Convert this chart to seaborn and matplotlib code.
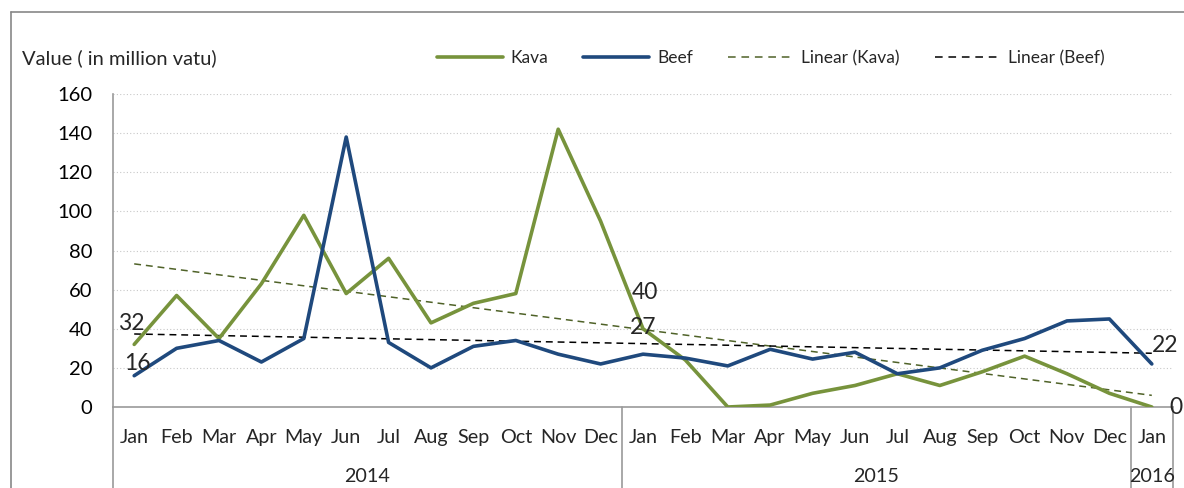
import numpy as np
import pandas as pd
import matplotlib
matplotlib.use("Agg")
import matplotlib.pyplot as plt
from matplotlib.lines import Line2D
import seaborn as sns

months = ["Jan", "Feb", "Mar", "Apr", "May", "Jun", "Jul", "Aug", "Sep", "Oct", "Nov", "Dec",
          "Jan", "Feb", "Mar", "Apr", "May", "Jun", "Jul", "Aug", "Sep", "Oct", "Nov", "Dec",
          "Jan"]
years = ["2014", "2015", "2016"]
year_counts = [12, 12, 1]
kava = [32, 57, 35, 63, 98, 58, 76, 43, 53, 58, 142, 95,
        40, 24, 0, 1, 7, 11, 17, 11, 18, 26, 17, 7,
        0]
beef = [16, 30, 34, 23, 35, 138, 33, 20, 31, 34, 27, 22,
        27, 25, 21, 29.5, 24.5, 28, 17, 20, 29, 35, 44, 45,
        22]
yticks = [0, 20, 40, 60, 80, 100, 120, 140, 160]

sns.set_style("white")
plt.rcParams["font.family"] = ["Lato", "DejaVu Sans"]

KAVA_C = "#77933C"
BEEF_C = "#1F497D"
KTREND_C = "#4F6228"
GRID_C = "#C8C8C8"
AX_C = "#9A9A9A"

W, H = 1184, 488
fig = plt.figure(figsize=(W / 100, H / 100), dpi=100)
ax = fig.add_axes([113 / W, 1 - 407 / H, (1173 - 113) / W, (407 - 94) / H])

x = np.arange(len(months))
df = pd.DataFrame({"x": x, "Kava": kava, "Beef": beef})

for yv in yticks[1:]:
    ax.axhline(yv, color=GRID_C, lw=0.8, ls=(0, (1, 2)), zorder=0)

sns.regplot(data=df, x="x", y="Kava", scatter=False, ci=None, ax=ax,
            line_kws=dict(color=KTREND_C, lw=1.1, ls=(0, (4.5, 3.2)), zorder=2))
sns.regplot(data=df, x="x", y="Beef", scatter=False, ci=None, ax=ax,
            line_kws=dict(color="black", lw=1.1, ls=(0, (4.5, 3.2)), zorder=2))
sns.lineplot(data=df, x="x", y="Kava", color=KAVA_C, lw=2.6, ax=ax, zorder=3)
sns.lineplot(data=df, x="x", y="Beef", color=BEEF_C, lw=2.6, ax=ax, zorder=3)

ax.set_xlim(-0.5, len(months) - 0.5)
ax.set_ylim(0, 160)
ax.set_yticks(yticks)
ax.set_yticklabels([str(v) for v in yticks], fontsize=14.5, color="black")
ax.tick_params(axis="y", length=0, pad=15)
ax.set_xticks([])
ax.set_xlabel("")
ax.set_ylabel("")
for s in ["top", "right"]:
    ax.spines[s].set_visible(False)
for s in ["left", "bottom"]:
    ax.spines[s].set_color(AX_C)
    ax.spines[s].set_linewidth(1.2)

# month labels
for i, m in enumerate(months):
    ax.text(i, -15.5, m, ha="center", va="center", fontsize=14.2, clip_on=False)

# year labels and separators
start = 0
bounds = [-0.5]
for yr, n in zip(years, year_counts):
    ax.text(start + (n - 1) / 2, -35.5, yr, ha="center", va="center", fontsize=14.2, clip_on=False)
    start += n
    bounds.append(start - 0.5)
for b in bounds:
    ax.plot([b, b], [0, -50], color=AX_C, lw=1.2, clip_on=False, zorder=1)

# data labels
def lab(i, series, txt, dx, dy):
    ax.annotate(txt, (i, series[i]), xytext=(dx, dy), textcoords="offset pixels",
                ha="center", va="center", fontsize=16.5, annotation_clip=False)

last = len(months) - 1
lab(0, kava, str(kava[0]), -3, 21)
lab(0, beef, str(beef[0]), 3, 12)
lab(12, kava, str(kava[12]), 2, 36)
lab(12, beef, str(beef[12]), 0, 27)
lab(last, beef, str(beef[last]), 13, 18)
lab(last, kava, str(kava[last]), 24, 0)

# y axis title
fig.text(22 / W, 1 - 58 / H, "Value ( in million vatu)", ha="left", va="center", fontsize=14.5)

# legend
handles = [
    Line2D([], [], color=KAVA_C, lw=2.6),
    Line2D([], [], color=BEEF_C, lw=2.6),
    Line2D([], [], color=KTREND_C, lw=1.1, ls=(0, (5, 3.8))),
    Line2D([], [], color="black", lw=1.1, ls=(0, (5, 3.8))),
]
fig.legend(handles, ["Kava", "Beef", "Linear (Kava)", "Linear (Beef)"],
           loc="center left", bbox_to_anchor=(437 / W, 1 - 58 / H), ncol=4,
           frameon=False, fontsize=12.5, handlelength=3.8, handletextpad=0.45,
           columnspacing=2.0, borderaxespad=0, borderpad=0)

# outer border
fig.add_artist(Line2D([10.7 / W, 1.0], [1 - 12.3 / H, 1 - 12.3 / H], color="#878787", lw=1.2))
fig.add_artist(Line2D([10.7 / W, 10.7 / W], [1 - 12.3 / H, 0], color="#878787", lw=1.2))

fig.savefig("out.png", dpi=100)
